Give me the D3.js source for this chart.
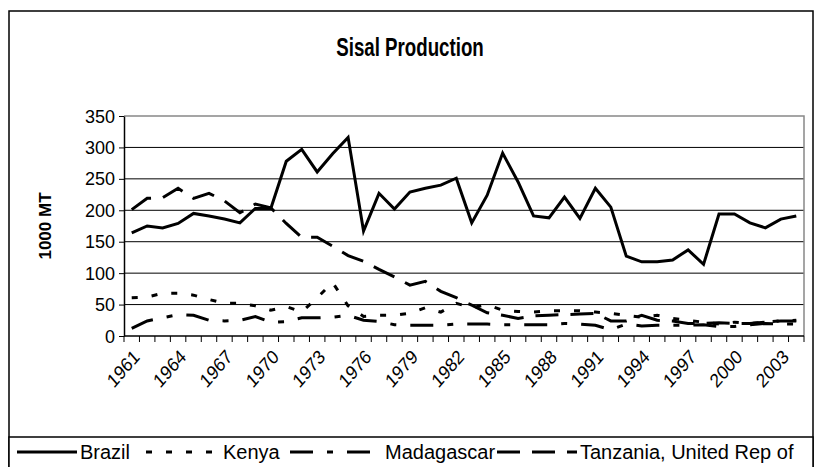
<!doctype html>
<html>
<head>
<script src="https://cdn.jsdelivr.net/npm/d3@7/dist/d3.min.js"></script>
<style>
  body, html { margin: 0; background: #fff; }
  svg { font-family: "Liberation Sans", Arial, sans-serif; }
  .grid line { stroke: #000; stroke-width: 1; }
</style>
</head>
<body>
<svg width="821" height="467"></svg>
<script>
var years = d3.range(1961, 2005);
var yTicks = [0, 50, 100, 150, 200, 250, 300, 350];

// 1000 MT
var brazil = [164,175,172,179,195,191,186,180,203,203,
              278,297,261,290,316,167,227,202,229,235,
              240,251,180,224,291,245,191,188,221,187,
              235,205,127,118,118,121,137,114,194,194,
              180,172,186,191];
var kenya = [61,62,68,68,65,58,52,52,48,41,
             47,38,61,85,48,31,33,33,36,45,
             38,52,45,50,41,39,38,40,40,40,
             38,36,33,30,33,28,25,22,19,22,
             20,22,24,25];
var madagascar = [12,24,29,34,33,25,24,25,31,22,
                  23,29,29,30,33,25,23,18,17,17,
                  17,19,19,19,18,18,18,18,20,19,
                  17,10,19,16,17,17,17,18,15,15,
                  18,20,19,19];
var tanzania = [201,219,220,235,219,227,215,196,210,204,
                179,157,157,143,128,119,106,94,81,87,
                71,61,49,37,33,28,32,33,34,35,
                36,24,24,33,25,24,20,20,21,20,
                20,22,24,24];

var series = [
  {name: "Brazil", values: brazil, dash: null},
  {name: "Kenya", values: kenya, dash: "6,14"},
  {name: "Madagascar", values: madagascar, dash: "23,14,6,14"},
  {name: "Tanzania, United Rep of", values: tanzania, dash: "23,12"}
];

var svg = d3.select("svg");

// outer frame
svg.append("rect").attr("x", 9).attr("y", 11).attr("width", 804).attr("height", 470)
  .attr("fill", "none").attr("stroke", "#000").attr("stroke-width", 1.5);

var x = d3.scaleBand().domain(years).range([124, 804]);
var y = d3.scaleLinear().domain([0, 350]).range([336, 116]);

// gridlines
svg.append("g").attr("class", "grid")
  .selectAll("line").data(yTicks.slice(1, -1)).join("line")
  .attr("x1", 124).attr("x2", 804)
  .attr("y1", d => y(d)).attr("y2", d => y(d));

// plot border (top/right grey)
svg.append("path")
  .attr("d", "M124," + y(350) + "H804V" + y(0))
  .attr("fill", "none").attr("stroke", "#888").attr("stroke-width", 1.5);

// y axis
var yAxis = d3.axisLeft(y).tickValues(yTicks).tickSize(5).tickSizeOuter(0);
var gy = svg.append("g").attr("transform", "translate(124,0)").call(yAxis);
gy.select(".domain").attr("stroke", "#000").attr("stroke-width", 1.5);
gy.selectAll(".tick text").attr("font-size", 18).attr("fill", "#000").attr("dx", -1)
  .attr("dy", null).attr("dominant-baseline", "central");

// x axis: ticks between categories
var gx = svg.append("g");
gx.append("line").attr("x1", 124).attr("x2", 804).attr("y1", y(0)).attr("y2", y(0))
  .attr("stroke", "#000").attr("stroke-width", 1.5);
gx.selectAll("line.tk").data(years.concat([2005])).join("line").attr("class", "tk")
  .attr("x1", d => d === 2005 ? 804 : x(d)).attr("x2", d => d === 2005 ? 804 : x(d))
  .attr("y1", y(0)).attr("y2", y(0) + 6).attr("stroke", "#000");
gx.selectAll("text").data(years.filter((d, i) => i % 3 === 0)).join("text")
  .attr("transform", d => "translate(" + (x(d) + x.bandwidth() / 2 + 9) + "," + (y(0) + 22) + ") scale(1,1.15) rotate(-45)")
  .attr("text-anchor", "end").attr("font-size", 17).text(d => d);

// axis title
svg.append("text").attr("transform", "translate(51,226) rotate(-90)")
  .attr("text-anchor", "middle").attr("font-size", 17).attr("font-weight", "bold").text("1000 MT");

// title
svg.append("text").attr("transform", "translate(410,56) scale(0.85,1.15)").attr("text-anchor", "middle")
  .attr("font-size", 22).attr("font-weight", "bold").text("Sisal Production");

// lines
var line = d3.line().x((d, i) => x(years[i]) + x.bandwidth() / 2).y(d => y(d));
svg.append("g").selectAll("path").data(series).join("path")
  .attr("d", d => line(d.values))
  .attr("fill", "none").attr("stroke", "#000").attr("stroke-width", 3)
  .attr("stroke-dasharray", d => d.dash);

// legend
var legend = svg.append("g");
legend.append("rect").attr("x", 9).attr("y", 437).attr("width", 804).attr("height", 40)
  .attr("fill", "#fff").attr("stroke", "#000").attr("stroke-width", 1.5);
var legX = [17, 146, 290, 497];
var legW = [60, 74, 92, 80];
var lg = legend.selectAll("g").data(series).join("g")
  .attr("transform", (d, i) => "translate(" + legX[i] + ",452)");
lg.append("line").attr("x1", 0).attr("x2", (d, i) => legW[i]).attr("y1", 0).attr("y2", 0)
  .attr("stroke", "#000").attr("stroke-width", 3).attr("stroke-dasharray", d => d.dash);
lg.append("text").attr("x", (d, i) => legW[i] + 3).attr("y", 7).attr("font-size", 20).text(d => d.name);
</script>
</body>
</html>
